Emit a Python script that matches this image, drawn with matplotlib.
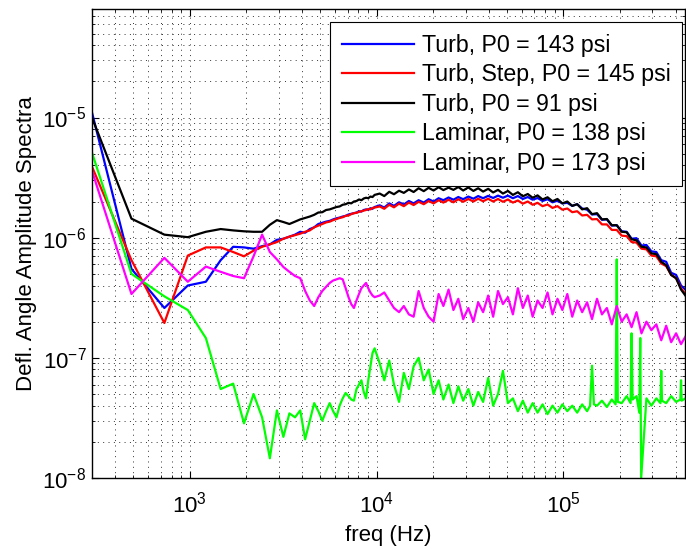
import matplotlib
matplotlib.use("Agg")
import matplotlib.pyplot as plt
from matplotlib.ticker import LogLocator, NullFormatter

plt.rcParams['font.family'] = ['Liberation Sans', 'DejaVu Sans']
plt.rcParams['mathtext.fontset'] = 'custom'
plt.rcParams['mathtext.rm'] = 'Liberation Sans'
plt.rcParams['axes.unicode_minus'] = False

# frequency bins (Hz), low range shared by all runs
freq_lo = [300, 488, 732, 977, 1221, 1465, 1709, 1953, 2197, 2441,
           2686, 2930, 3174, 3418, 3662, 3906, 4150, 4395, 4639, 4883,
           5127, 5371, 5615, 5859, 6104, 6348, 6592, 6836, 7080, 7324,
           7568, 7813, 8057, 8301, 8545, 8789, 9033, 9277, 9521, 9766]

# upper range
freq_hi = [10400, 11000, 11700, 12400, 13200, 14000, 14900, 15800, 16800, 17900,
           19000, 20200, 21500, 22800, 24300, 25800, 27400, 29100, 31000, 33000,
           35000, 37200, 39600, 42100, 44700, 47500, 50500, 53700, 57100, 60700,
           64500, 68500, 72800, 77400, 82300, 87500, 93000, 98800, 105000, 111600,
           118600, 126100, 134000, 142400, 151400, 160900, 171000, 181700, 193100, 205300,
           218200, 231900, 246400, 261900, 278400, 295900, 314500, 334200, 355200, 377600,
           401300, 426500, 450000]

# laminar 138 psi has narrow spikes, so its own upper range
freq_green_hi = [10400, 11000, 11700, 12400, 13200, 14000, 14900, 15800, 16800, 17900,
                 19000, 20200, 21500, 22800, 24300, 25800, 27400, 29100, 31000, 33000,
                 35000, 37200, 39600, 42100, 44700, 47500, 50500, 53700, 57100, 60700,
                 64500, 68500, 72800, 77400, 82300, 87500, 93000, 98800, 105000, 111600,
                 118600, 126100, 134000, 139000, 142400, 145800, 151400, 160900, 171000, 181700,
                 190500, 193100, 195700, 205300, 218200, 229000, 231900, 234800, 246400, 255000,
                 258000, 261000, 278400, 295900, 314500, 331000, 334200, 337400, 355200, 377600,
                 401300, 423000, 426500, 430000, 450000]

blue_lo = [1.1e-5, 5.5e-7, 2.6e-7, 4.0e-7, 4.3e-7, 6.5e-7, 8.4e-7, 8.3e-7, 8.1e-7, 8.5e-7,
           8.8e-7, 9.6e-7, 9.8e-7, 1.02e-6, 1.06e-6, 1.12e-6, 1.10e-6, 1.18e-6, 1.22e-6, 1.30e-6,
           1.33e-6, 1.36e-6, 1.38e-6, 1.42e-6, 1.45e-6, 1.47e-6, 1.50e-6, 1.52e-6, 1.56e-6, 1.58e-6,
           1.60e-6, 1.62e-6, 1.66e-6, 1.65e-6, 1.70e-6, 1.72e-6, 1.71e-6, 1.76e-6, 1.74e-6, 1.80e-6]
blue_hi_e6 = [1.86, 1.78, 1.93, 1.84, 1.97, 1.89, 2.02, 1.93, 2.05, 1.96,
              2.09, 2.00, 2.13, 2.05, 2.16, 2.07, 2.18, 2.09, 2.20, 2.11,
              2.22, 2.13, 2.23, 2.14, 2.24, 2.15, 2.24, 2.13, 2.22, 2.10,
              2.18, 2.07, 2.14, 2.02, 2.09, 1.97, 2.03, 1.93, 1.95, 1.84,
              1.90, 1.75, 1.71, 1.56, 1.57, 1.41, 1.42, 1.26, 1.27, 1.13,
              1.12, 0.98, 0.99, 0.86, 0.87, 0.77, 0.76, 0.65, 0.63, 0.51,
              0.49, 0.40, 0.37]

red_lo = [3.9e-6, 6.5e-7, 1.95e-7, 7.1e-7, 8.3e-7, 8.3e-7, 7.6e-7, 7.0e-7, 7.8e-7, 8.4e-7,
          8.8e-7, 9.2e-7, 9.8e-7, 1.02e-6, 1.05e-6, 1.08e-6, 1.12e-6, 1.15e-6, 1.22e-6, 1.26e-6,
          1.30e-6, 1.34e-6, 1.36e-6, 1.40e-6, 1.43e-6, 1.46e-6, 1.48e-6, 1.52e-6, 1.53e-6, 1.57e-6,
          1.60e-6, 1.61e-6, 1.64e-6, 1.66e-6, 1.68e-6, 1.70e-6, 1.73e-6, 1.72e-6, 1.77e-6, 1.78e-6]
red_hi_e6 = [1.82, 1.74, 1.88, 1.79, 1.92, 1.83, 1.96, 1.87, 1.99, 1.90,
             2.02, 1.93, 2.05, 1.96, 2.07, 1.97, 2.09, 1.99, 2.10, 2.00,
             2.11, 2.01, 2.11, 2.00, 2.10, 1.99, 2.08, 1.96, 2.04, 1.92,
             2.00, 1.88, 1.95, 1.83, 1.89, 1.77, 1.83, 1.71, 1.75, 1.63,
             1.66, 1.53, 1.55, 1.42, 1.43, 1.29, 1.29, 1.16, 1.16, 1.04,
             1.03, 0.92, 0.91, 0.81, 0.80, 0.71, 0.70, 0.61, 0.58, 0.49,
             0.46, 0.38, 0.34]

black_lo = [1.0e-5, 1.44e-6, 1.06e-6, 1.01e-6, 1.12e-6, 1.18e-6, 1.15e-6, 1.13e-6, 1.12e-6, 1.12e-6,
            1.28e-6, 1.40e-6, 1.35e-6, 1.30e-6, 1.36e-6, 1.42e-6, 1.46e-6, 1.50e-6, 1.55e-6, 1.62e-6,
            1.63e-6, 1.70e-6, 1.72e-6, 1.76e-6, 1.80e-6, 1.82e-6, 1.88e-6, 1.90e-6, 1.95e-6, 1.93e-6,
            2.00e-6, 2.02e-6, 2.08e-6, 2.05e-6, 2.12e-6, 2.15e-6, 2.13e-6, 2.20e-6, 2.18e-6, 2.27e-6]
black_hi_e6 = [2.33, 2.22, 2.41, 2.30, 2.46, 2.36, 2.52, 2.40, 2.58, 2.44,
               2.60, 2.47, 2.63, 2.49, 2.61, 2.50, 2.64, 2.47, 2.62, 2.45,
               2.58, 2.42, 2.55, 2.38, 2.50, 2.33, 2.45, 2.27, 2.39, 2.21,
               2.31, 2.15, 2.25, 2.08, 2.17, 2.01, 2.10, 1.93, 2.00, 1.84,
               1.90, 1.72, 1.76, 1.57, 1.60, 1.42, 1.43, 1.27, 1.27, 1.12,
               1.11, 0.97, 0.95, 0.84, 0.83, 0.74, 0.73, 0.63, 0.59, 0.49,
               0.46, 0.37, 0.33]

green_lo = [5.1e-6, 5.0e-7, 3.25e-7, 2.5e-7, 1.46e-7, 5.5e-8, 6.1e-8, 2.85e-8, 5.0e-8, 3.2e-8,
            1.46e-8, 3.65e-8, 2.2e-8, 3.45e-8, 3.2e-8, 3.65e-8, 2.1e-8, 3.0e-8, 4.2e-8, 3.6e-8,
            3.0e-8, 3.6e-8, 4.2e-8, 3.6e-8, 3.2e-8, 4.0e-8, 4.6e-8, 5.1e-8, 4.8e-8, 4.5e-8,
            4.4e-8, 5.5e-8, 6.0e-8, 6.5e-8, 5.2e-8, 4.6e-8, 6.5e-8, 8.5e-8, 1.1e-7, 1.2e-7]
green_hi_e8 = [9.0, 6.5, 9.5, 6.0, 4.3, 7.5, 5.5, 8.5, 10.0, 6.5,
               8.0, 5.0, 6.5, 4.5, 6.0, 4.2, 5.8, 4.4, 5.5, 4.0,
               5.2, 4.3, 6.8, 4.0, 5.0, 7.8, 4.2, 4.6, 3.6, 4.4,
               3.5, 4.2, 3.5, 4.1, 3.4, 4.0, 3.5, 4.1, 3.6, 4.0,
               3.5, 4.1, 3.6, 4.0, 8.6, 4.1, 4.0, 4.4, 3.9, 4.5,
               4.1, 66.0, 4.3, 4.2, 4.8, 4.2, 16.0, 4.5, 4.8, 3.5,
               14.6, 1.0, 4.6, 4.0, 4.6, 4.2, 7.8, 4.4, 4.2, 4.8,
               4.3, 4.5, 6.5, 4.4, 4.6]

magenta_lo = [3.6e-6, 3.4e-7, 6.8e-7, 4.3e-7, 5.75e-7, 5.2e-7, 4.8e-7, 4.6e-7, 7.0e-7, 1.06e-6,
              7.6e-7, 6.6e-7, 5.7e-7, 5.2e-7, 4.8e-7, 4.6e-7, 3.6e-7, 3.0e-7, 2.7e-7, 3.2e-7,
              3.6e-7, 3.9e-7, 4.2e-7, 4.4e-7, 4.5e-7, 4.6e-7, 4.5e-7, 3.8e-7, 3.2e-7, 2.8e-7,
              2.6e-7, 3.0e-7, 3.4e-7, 3.8e-7, 4.0e-7, 4.2e-7, 3.8e-7, 3.5e-7, 3.3e-7, 3.2e-7]
magenta_hi_e7 = [3.3, 3.5, 3.0, 2.6, 2.4, 2.7, 2.3, 2.2, 3.6, 2.6,
                 2.2, 2.0, 3.4, 2.7, 3.7, 2.5, 3.1, 2.1, 2.6, 2.0,
                 2.9, 2.4, 3.3, 2.2, 3.6, 2.8, 3.2, 2.3, 3.8, 2.6,
                 3.3, 2.2, 3.0, 2.6, 3.5, 2.3, 3.1, 2.5, 3.4, 2.2,
                 3.0, 2.4, 2.9, 2.1, 3.1, 2.3, 2.6, 1.9, 2.7, 2.0,
                 2.3, 1.8, 2.4, 1.6, 2.0, 1.7, 1.9, 1.4, 1.85, 1.35,
                 1.6, 1.3, 1.5]

labels = ["Turb, P0 = 143 psi", "Turb, Step, P0 = 145 psi", "Turb, P0 = 91 psi",
          "Laminar, P0 = 138 psi", "Laminar, P0 = 173 psi"]
colors = ['#0000ff', '#ff0000', '#000000', '#00ff00', '#ff00ff']

runs = [
    (freq_lo + freq_hi, blue_lo + [v * 1e-6 for v in blue_hi_e6]),
    (freq_lo + freq_hi, red_lo + [v * 1e-6 for v in red_hi_e6]),
    (freq_lo + freq_hi, black_lo + [v * 1e-6 for v in black_hi_e6]),
    (freq_lo + freq_green_hi, green_lo + [v * 1e-8 for v in green_hi_e8]),
    (freq_lo + freq_hi, magenta_lo + [v * 1e-7 for v in magenta_hi_e7]),
]

fig = plt.figure(figsize=(6.86, 5.5), dpi=100)
ax = fig.add_axes([0.1341, 0.1309, 0.865, 0.8527])

for (f, a), lab, c in zip(runs, labels, colors):
    ax.plot(f, a, color=c, lw=1.6, label=lab)

ax.set_xscale('log')
ax.set_yscale('log')
ax.set_xlim(300, 4.5e5)
ax.set_ylim(1e-8, 8e-5)

for axis in (ax.xaxis, ax.yaxis):
    axis.set_major_locator(LogLocator(base=10, numticks=20))
    axis.set_minor_locator(LogLocator(base=10, subs=range(2, 10), numticks=100))
    axis.set_minor_formatter(NullFormatter())

ax.grid(True, which='both', color='#333333', lw=0.7, linestyle=(0, (1, 4.5)))
ax.tick_params(which='both', direction='in', top=True, right=True)
ax.tick_params(which='major', length=5, labelsize=16)
ax.tick_params(which='minor', length=2.5)
ax.tick_params(axis='x', pad=10)
ax.tick_params(axis='y', pad=4)
for sp in ax.spines.values():
    sp.set_linewidth(1.0)

ax.set_xlabel("freq (Hz)", fontsize=16, labelpad=5)
ax.set_ylabel("Defl. Angle Amplitude Spectra", fontsize=16, labelpad=4)

leg = ax.legend(loc='upper right', bbox_to_anchor=(0.995, 0.972), borderaxespad=0,
                fontsize=16.7, handlelength=3.1, handletextpad=0.35, labelspacing=0.28,
                borderpad=0.5, fancybox=False, framealpha=1, edgecolor='k')
leg.get_frame().set_linewidth(0.8)

fig.savefig("out.png", dpi=100)
